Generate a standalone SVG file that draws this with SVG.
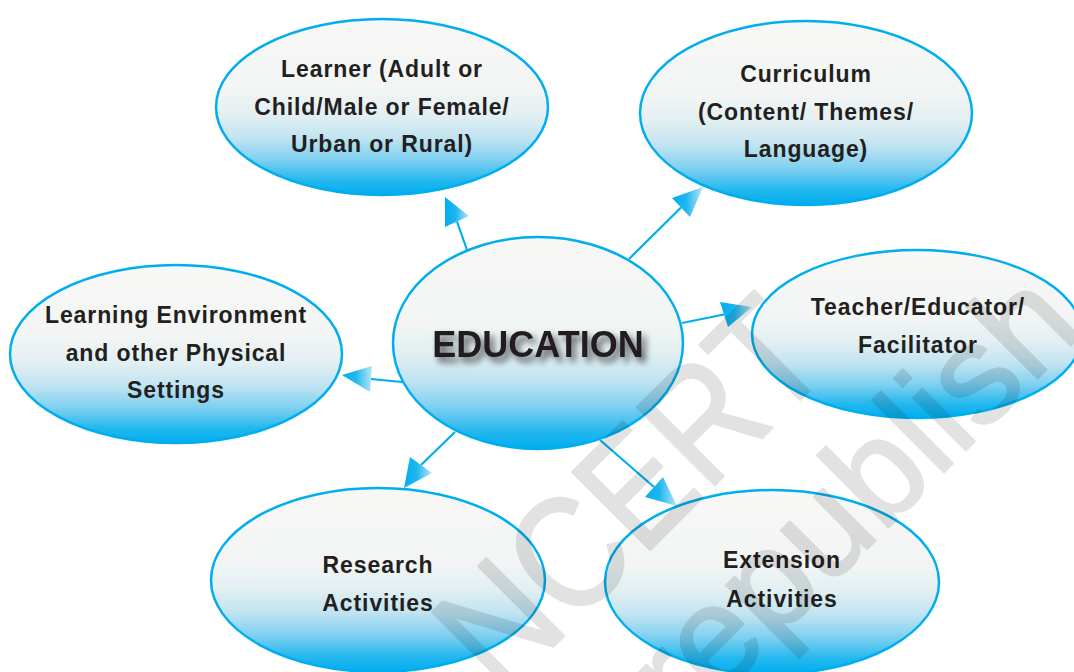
<svg xmlns="http://www.w3.org/2000/svg" width="1074" height="672" viewBox="0 0 1074 672">
  <defs>
    <linearGradient id="eg" x1="0" y1="0" x2="0" y2="1">
      <stop offset="0" stop-color="#f8f8f6"/>
      <stop offset="0.4" stop-color="#f2f5f4"/>
      <stop offset="0.55" stop-color="#e2eff2"/>
      <stop offset="0.68" stop-color="#bfe3f1"/>
      <stop offset="0.8" stop-color="#7fd0f0"/>
      <stop offset="0.92" stop-color="#22b7ee"/>
      <stop offset="1" stop-color="#00aeef"/>
    </linearGradient>
    <linearGradient id="ag" x1="0" y1="0" x2="1" y2="0">
      <stop offset="0" stop-color="#00aeef"/>
      <stop offset="0.45" stop-color="#1eb6ef"/>
      <stop offset="1" stop-color="#b8e6f8"/>
    </linearGradient>
    <filter id="sh" x="-20%" y="-40%" width="140%" height="200%">
      <feGaussianBlur in="SourceAlpha" stdDeviation="3.5"/>
      <feOffset dx="4" dy="5" result="b"/>
      <feComponentTransfer><feFuncA type="linear" slope="0.65"/></feComponentTransfer>
      <feMerge><feMergeNode/><feMergeNode in="SourceGraphic"/></feMerge>
    </filter>
  </defs>
  <style>
    .node { fill: url(#eg); stroke: #00aeef; stroke-width: 2.5; }
    .lbl { font-family: "Liberation Sans", Arial, sans-serif; font-weight: bold; font-size: 23px; fill: #231f20; text-anchor: middle; letter-spacing: 0.9px; }
    .main { font-family: "Liberation Sans", Arial, sans-serif; font-weight: bold; font-size: 36px; fill: #231f20; text-anchor: middle; }
    .conn line { stroke: #00aeef; stroke-width: 2.2; }
    .conn polygon { fill: url(#ag); }
    .wm { font-family: "Liberation Sans", Arial, sans-serif; fill: #000; stroke: #000; stroke-width: 2.5; stroke-linejoin: round; }
  </style>
  <rect width="1074" height="672" fill="#ffffff"/>

  <g id="connectors" class="conn">
    <line x1="467" y1="250" x2="457" y2="221.5"/>
    <polygon points="445,197 445,227 469,216"/>
    <line x1="629" y1="259" x2="681" y2="207.5"/>
    <polygon points="703,187 672,198 690,217"/>
    <line x1="682" y1="323" x2="724" y2="314.5"/>
    <polygon points="752,307 720,302 728,327"/>
    <line x1="402" y1="382" x2="371" y2="379"/>
    <polygon points="342,375 372,366 370,392"/>
    <line x1="455" y1="432" x2="421" y2="465"/>
    <polygon points="404,488 410,457 432,473"/>
    <line x1="600" y1="440" x2="654" y2="487"/>
    <polygon points="677,506 663,477 645,497"/>
  </g>

  <g id="learner">
    <ellipse class="node" cx="382" cy="107" rx="166" ry="88"/>
    <text class="lbl" x="382" y="77">Learner (Adult or</text>
    <text class="lbl" x="382" y="115">Child/Male or Female/</text>
    <text class="lbl" x="382" y="152">Urban or Rural)</text>
  </g>

  <g id="curriculum">
    <ellipse class="node" cx="806" cy="113" rx="166" ry="92"/>
    <text class="lbl" x="806" y="82">Curriculum</text>
    <text class="lbl" x="806" y="120">(Content/ Themes/</text>
    <text class="lbl" x="806" y="157">Language)</text>
  </g>

  <g id="teacher">
    <ellipse class="node" cx="917" cy="334" rx="165" ry="84"/>
    <text class="lbl" x="918" y="315">Teacher/Educator/</text>
    <text class="lbl" x="918" y="353">Facilitator</text>
  </g>

  <g id="environment">
    <ellipse class="node" cx="176" cy="354" rx="166" ry="89"/>
    <text class="lbl" x="176" y="323">Learning Environment</text>
    <text class="lbl" x="176" y="361">and other Physical</text>
    <text class="lbl" x="176" y="398">Settings</text>
  </g>

  <g id="education">
    <ellipse class="node" cx="538" cy="343" rx="145" ry="106"/>
    <text class="main" x="538" y="357" filter="url(#sh)">EDUCATION</text>
  </g>

  <g id="research">
    <ellipse class="node" cx="378" cy="580" rx="167" ry="92"/>
    <text class="lbl" x="378" y="573">Research</text>
    <text class="lbl" x="378" y="611">Activities</text>
  </g>

  <g id="extension">
    <ellipse class="node" cx="772" cy="582" rx="167" ry="92"/>
    <text class="lbl" x="782" y="568">Extension</text>
    <text class="lbl" x="782" y="607">Activities</text>
  </g>

  <g id="watermark" opacity="0.11">
    <text class="wm" font-size="160" transform="translate(502,698) rotate(-45)" textLength="470" lengthAdjust="spacingAndGlyphs">NCERT</text>
    <text class="wm" font-size="140" transform="translate(684,732) rotate(-45)">republish</text>
  </g>
</svg>
